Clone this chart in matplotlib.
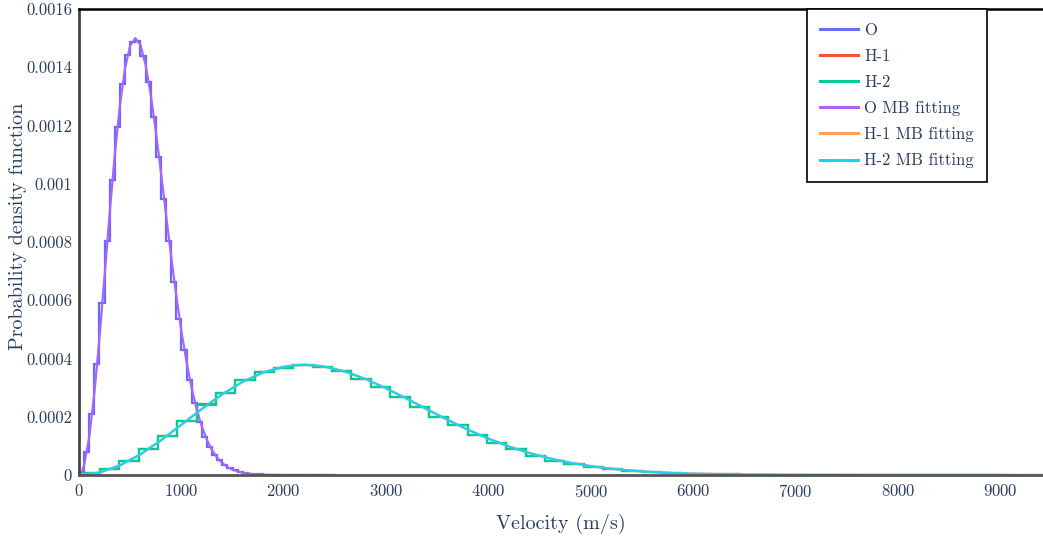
import numpy as np
import matplotlib
matplotlib.use("Agg")
import matplotlib.pyplot as plt

# histogram bin heights
o_bin_start = 0
o_bin_width = 50
o_hist = [8e-6, 8.0e-5, 0.000208, 0.000381, 0.000589, 0.000804, 0.001013, 0.001196,
          0.001341, 0.001442, 0.001488, 0.001490, 0.001439, 0.001348, 0.00123, 0.001093,
          0.000948, 0.000804, 0.000664, 0.000536, 0.000429, 0.000326, 0.000246, 0.000183,
          0.000132, 9.7e-5, 6.9e-5, 5.2e-5, 3.4e-5, 2.5e-5, 1.7e-5, 1.2e-5,
          8e-6, 5e-6, 3e-6, 2e-6, 1e-6, 1e-6, 0, 0,
          0, 0, 0, 0, 0, 0, 0, 0, 0, 0]

h2_bin_start = 15
h2_bin_width = 189
h2_hist = [6e-6, 2.0e-5, 4.9e-5, 8.8e-5, 0.000134, 0.000187, 0.000242, 0.000283,
           0.000325, 0.000352, 0.000367, 0.000376, 0.000372, 0.000357, 0.000331, 0.000301,
           0.000269, 0.000235, 0.000199, 0.000170, 0.000137, 0.000109, 8.9e-5, 6.6e-5,
           4.9e-5, 3.7e-5, 2.7e-5, 2.0e-5, 1.4e-5, 1.0e-5, 7e-6, 5e-6,
           3.5e-6, 2.4e-6, 1.6e-6, 1.0e-6, 7e-7, 4e-7, 3e-7, 2e-7,
           1e-7, 1e-7, 0, 0, 0, 0, 0, 0]

h1_bin_start = 15
h1_bin_width = 189
h1_hist = [6e-6, 2.0e-5, 4.9e-5, 8.8e-5, 0.000134, 0.000187, 0.000243, 0.000283,
           0.000325, 0.000352, 0.000367, 0.000376, 0.000372, 0.000357, 0.000331, 0.000301,
           0.000269, 0.000235, 0.000199, 0.000170, 0.000137, 0.000109, 8.9e-5, 6.6e-5,
           4.9e-5, 3.7e-5, 2.7e-5, 2.0e-5, 1.4e-5, 1.0e-5, 7e-6, 5e-6,
           3.5e-6, 2.4e-6, 1.6e-6, 1.0e-6, 7e-7, 4e-7, 3e-7, 2e-7,
           1e-7, 1e-7, 0, 0, 0, 0, 0, 0, 0, 0]

# MB fitting curves, sampled along the drawn lines
o_fit_v = [0, 25, 50, 100, 150, 200, 250, 300, 350, 400, 450, 500, 550, 600, 650, 700,
           750, 800, 850, 900, 950, 1000, 1050, 1100, 1150, 1200, 1250, 1300, 1350, 1400,
           1450, 1500, 1600, 1700, 1800, 2000, 2500]
o_fit_p = [0, 8.4e-6, 3.34e-5, 0.0001304, 0.0002815, 0.0004724, 0.0006852, 0.0009009,
           0.0011014, 0.0012708, 0.0013976, 0.0014746, 0.0015, 0.0014761, 0.001409, 0.0013072,
           0.001181, 0.00104, 0.000894, 0.00075, 0.000616, 0.000494, 0.000388, 0.000299,
           0.000225, 0.000166, 0.00012, 8.5e-5, 5.9e-5, 4.1e-5, 2.7e-5, 1.8e-5,
           7.3e-6, 2.8e-6, 1e-6, 1e-7, 0]

h2_fit_v = [0, 200, 400, 600, 800, 1000, 1200, 1400, 1600, 1800, 2000, 2100, 2200, 2300, 2400,
            2600, 2800, 3000, 3200, 3400, 3600, 3800, 4000, 4200, 4400, 4600, 4800, 5000,
            5200, 5400, 5600, 5800, 6000, 6400, 6800, 7200, 7600, 8000, 8990]
h2_fit_p = [0, 8.4e-6, 3.29e-5, 7.10e-5, 0.000119, 0.0001727, 0.000227, 0.0002775,
            0.0003202, 0.0003522, 0.0003716, 0.0003765, 0.000378, 0.0003765, 0.000372,
            0.000355, 0.0003294, 0.0002976, 0.0002621, 0.0002253, 0.0001891, 0.0001552,
            0.0001246, 9.78e-5, 7.53e-5, 5.67e-5, 4.19e-5, 3.03e-5, 2.15e-5, 1.50e-5,
            1.02e-5, 6.8e-6, 4.5e-6, 1.8e-6, 7e-7, 2.5e-7, 8e-8, 0, 0]

h1_fit_v = [0, 200, 400, 600, 800, 1000, 1200, 1400, 1600, 1800, 2000, 2100, 2200, 2300, 2400,
            2600, 2800, 3000, 3200, 3400, 3600, 3800, 4000, 4200, 4400, 4600, 4800, 5000,
            5200, 5400, 5600, 5800, 6000, 6400, 6800, 7200, 7600, 8000, 9420]
h1_fit_p = list(h2_fit_p)

y_ticks = [0, 0.0002, 0.0004, 0.0006, 0.0008, 0.001, 0.0012, 0.0014, 0.0016]
y_ticklabels = ["0", "0.0002", "0.0004", "0.0006", "0.0008", "0.001", "0.0012", "0.0014", "0.0016"]
x_ticks = [0, 1000, 2000, 3000, 4000, 5000, 6000, 7000, 8000, 9000]

plt.rcParams['font.family'] = ['cmr10', 'DejaVu Serif']
plt.rcParams['axes.formatter.use_mathtext'] = True
text_col = "#2a3f5f"

fig = plt.figure(figsize=(10.43, 5.43), dpi=100)
ax = fig.add_axes([79/1043, 1 - 475/543, 964/1043, 466/543])

def edges(start, width, n):
    return start + width * np.arange(n + 1)

lw = 1.6
ax.stairs(o_hist, edges(o_bin_start, o_bin_width, len(o_hist)), baseline=None,
          color="#636EFA", lw=lw, label="O")
ax.stairs(h1_hist, edges(h1_bin_start, h1_bin_width, len(h1_hist)), baseline=None,
          color="#EF553B", lw=lw, label="H-1")
ax.stairs(h2_hist, edges(h2_bin_start, h2_bin_width, len(h2_hist)), baseline=None,
          color="#00CC96", lw=lw, label="H-2")
ax.plot(o_fit_v, o_fit_p, color="#AB63FA", lw=lw, label="O MB fitting")
ax.plot(h1_fit_v, h1_fit_p, color="#FFA15A", lw=lw, label="H-1 MB fitting")
ax.plot(h2_fit_v, h2_fit_p, color="#19D3F3", lw=lw, label="H-2 MB fitting")

ax.set_xlim(0, 9414)
ax.set_ylim(0, 0.0016)
ax.set_xticks(x_ticks)
ax.set_yticks(y_ticks)
ax.set_yticklabels(y_ticklabels)
ax.tick_params(length=0, labelsize=12, colors=text_col)
ax.tick_params(axis='x', pad=6)
ax.tick_params(axis='y', pad=5)

ax.spines['right'].set_visible(False)
ax.spines['top'].set_color("black")
ax.spines['top'].set_linewidth(1.8)
ax.spines['left'].set_color("#444444")
ax.spines['left'].set_linewidth(2)
ax.spines['bottom'].set_color("#555555")
ax.spines['bottom'].set_linewidth(2)

ax.set_xlabel("Velocity (m/s)", fontsize=14.5, color=text_col, labelpad=10)
ax.set_ylabel("Probability density function", fontsize=14.5, color=text_col)
ax.yaxis.set_label_coords(-0.054, 0.534)

leg = ax.legend(loc='upper left', bbox_to_anchor=(0.755, 1.0), borderaxespad=0,
                fontsize=12, fancybox=False, framealpha=1, edgecolor="black",
                handlelength=2.3, handletextpad=0.35, labelspacing=0.65, borderpad=0.8)
leg.get_frame().set_linewidth(1.2)
for t in leg.get_texts():
    t.set_color(text_col)
for l in leg.get_lines():
    l.set_linewidth(2.2)

fig.savefig("out.png", dpi=100)
